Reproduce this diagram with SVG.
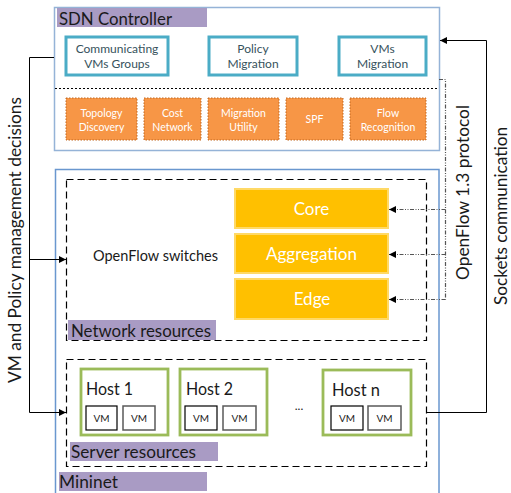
<svg xmlns="http://www.w3.org/2000/svg" width="511" height="493" viewBox="0 0 511 493">
<defs>
<style>
text{font-family:Lato,"Open Sans","Liberation Sans",sans-serif}
.lbl{font-size:17.5px;fill:#1a1a1a}
.band{fill:#a99bc4}
.teal{fill:#fff;stroke:#4bacc6;stroke-width:3}
.tt{font-size:12px;fill:#36525c;text-anchor:middle}
.org{fill:#f79646;stroke:#c0661f;stroke-width:1;stroke-dasharray:1.5 1.5}
.ot{font-size:10.5px;fill:#fff;text-anchor:middle}
.yel{fill:#ffc000;stroke:#ffd966;stroke-width:2}
.yt{font-size:17px;fill:#fff;text-anchor:middle}
.dash{fill:none;stroke:#000;stroke-width:1.2;stroke-dasharray:7 4}
.host{fill:#fff;stroke:#9bbb59;stroke-width:2.8}
.ht{font-size:17px;fill:#1a1a1a}
.vm{fill:#fff;stroke:#000;stroke-width:1.2}
.vm2{fill:#fff;stroke:#595959;stroke-width:1.5}
.vt{font-size:10px;fill:#1a1a1a;text-anchor:middle}
.conn{fill:none;stroke:#000;stroke-width:1}
.of{fill:none;stroke:#555;stroke-width:1.2;stroke-dasharray:4 1.5 1 1.5 1 1.5}
.rot{font-size:17.5px;fill:#1a1a1a;text-anchor:middle}
</style>
<marker id="ah" viewBox="0 0 10 10" refX="10" refY="5" markerWidth="7" markerHeight="7" markerUnits="userSpaceOnUse" orient="auto"><path d="M0,0 L10,5 L0,10 Z" fill="#000"/></marker>
</defs>

<g id="sdn-controller">
<rect x="54.5" y="7.5" width="385" height="143" fill="#fff" stroke="#95b3d7" stroke-width="1.5"/>
<rect class="band" x="57" y="8" width="150" height="19"/>
<text class="lbl" x="59" y="25" textLength="113" lengthAdjust="spacingAndGlyphs">SDN Controller</text>
<line x1="55" y1="88.5" x2="438" y2="88.5" stroke="#000" stroke-width="1" stroke-dasharray="2 2"/>
</g>

<g id="communicating-vms-groups">
<rect class="teal" x="66" y="37" width="102" height="38"/>
<text class="tt" x="117" y="53">Communicating</text>
<text class="tt" x="117" y="68">VMs Groups</text>
</g>
<g id="policy-migration">
<rect class="teal" x="209" y="37" width="88" height="38"/>
<text class="tt" x="253" y="53">Policy</text>
<text class="tt" x="253" y="68">Migration</text>
</g>
<g id="vms-migration">
<rect class="teal" x="339" y="37" width="87" height="38"/>
<text class="tt" x="382.5" y="53">VMs</text>
<text class="tt" x="382.5" y="68">Migration</text>
</g>

<g id="topology-discovery">
<rect class="org" x="66" y="98" width="71" height="42"/>
<text class="ot" x="101.5" y="117">Topology</text>
<text class="ot" x="101.5" y="131">Discovery</text>
</g>
<g id="cost-network">
<rect class="org" x="144" y="98" width="57" height="42"/>
<text class="ot" x="172.5" y="117">Cost</text>
<text class="ot" x="172.5" y="131">Network</text>
</g>
<g id="migration-utility">
<rect class="org" x="208" y="98" width="71" height="42"/>
<text class="ot" x="243.5" y="117">Migration</text>
<text class="ot" x="243.5" y="131">Utility</text>
</g>
<g id="spf">
<rect class="org" x="286" y="98" width="57" height="42"/>
<text class="ot" x="314.5" y="123">SPF</text>
</g>
<g id="flow-recognition">
<rect class="org" x="350" y="98" width="76" height="42"/>
<text class="ot" x="388" y="117">Flow</text>
<text class="ot" x="388" y="131">Recognition</text>
</g>

<g id="mininet">
<rect x="55.5" y="169.5" width="383.5" height="340" fill="#fff" stroke="#6a97cf" stroke-width="1.5"/>
<rect class="band" x="59" y="472" width="148" height="19"/>
<text class="lbl" x="59" y="488" textLength="59" lengthAdjust="spacingAndGlyphs">Mininet</text>
</g>

<g id="network-resources">
<rect class="dash" x="66.5" y="179.5" width="360" height="161"/>
<rect class="band" x="68" y="320" width="148" height="20"/>
<text class="lbl" x="71" y="337" textLength="140" lengthAdjust="spacingAndGlyphs">Network resources</text>
<text x="93" y="261" style="font-size:15px;fill:#1a1a1a" textLength="125" lengthAdjust="spacingAndGlyphs">OpenFlow switches</text>
</g>

<g id="core">
<rect class="yel" x="235" y="189" width="153" height="39"/>
<text class="yt" x="311.5" y="215">Core</text>
</g>
<g id="aggregation">
<rect class="yel" x="235" y="234" width="153" height="39"/>
<text class="yt" x="311.5" y="260" textLength="91" lengthAdjust="spacingAndGlyphs">Aggregation</text>
</g>
<g id="edge">
<rect class="yel" x="235" y="279" width="153" height="40"/>
<text class="yt" x="312" y="305">Edge</text>
</g>

<g id="server-resources">
<rect class="dash" x="66.5" y="359.5" width="360" height="107"/>
<rect class="band" x="70" y="442" width="148" height="19"/>
<text class="lbl" x="71" y="458" textLength="125" lengthAdjust="spacingAndGlyphs">Server resources</text>
<text x="299" y="410" style="font-size:12px;fill:#1a1a1a" text-anchor="middle">...</text>
</g>

<g id="host-1">
<rect class="host" x="81" y="369" width="87" height="66"/>
<text class="ht" x="86" y="395" textLength="47" lengthAdjust="spacingAndGlyphs">Host 1</text>
<rect class="vm" x="86" y="406" width="31" height="24"/>
<text class="vt" x="101.5" y="422">VM</text>
<rect class="vm2" x="123" y="406" width="32" height="24"/>
<text class="vt" x="139" y="422">VM</text>
</g>
<g id="host-2">
<rect class="host" x="180" y="369" width="87" height="66"/>
<text class="ht" x="186" y="395" textLength="47" lengthAdjust="spacingAndGlyphs">Host 2</text>
<rect class="vm" x="185" y="406" width="32" height="24"/>
<text class="vt" x="201" y="422">VM</text>
<rect class="vm2" x="223" y="406" width="33" height="24"/>
<text class="vt" x="239.5" y="422">VM</text>
</g>
<g id="host-n">
<rect class="host" x="323" y="370" width="88" height="65"/>
<text class="ht" x="332" y="396" textLength="48" lengthAdjust="spacingAndGlyphs">Host n</text>
<rect class="vm" x="331" y="406" width="32" height="24"/>
<text class="vt" x="347" y="422">VM</text>
<rect class="vm2" x="368" y="406" width="33" height="24"/>
<text class="vt" x="384.5" y="422">VM</text>
</g>

<g id="connectors">
<path class="conn" d="M54,57.5 H29.5 V412.5 H66" marker-end="url(#ah)"/>
<path class="conn" d="M29.5,259.5 H66" marker-end="url(#ah)"/>
<path class="conn" d="M426,412.5 H486.5 V40.5 H440" marker-end="url(#ah)"/>
<path class="of" d="M439,79.5 H445.5 V299.5"/>
<path class="of" d="M445.5,209.5 H389" marker-end="url(#ah)"/>
<path class="of" d="M445.5,254.5 H389" marker-end="url(#ah)"/>
<path class="of" d="M445.5,299.5 H389" marker-end="url(#ah)"/>
<text class="rot" transform="translate(21,240) rotate(-90)" textLength="286" lengthAdjust="spacingAndGlyphs">VM and Policy management decisions</text>
<text class="rot" transform="translate(469,192.5) rotate(-90)" textLength="175" lengthAdjust="spacingAndGlyphs">OpenFlow 1.3 protocol</text>
<text class="rot" transform="translate(507,216) rotate(-90)" textLength="178" lengthAdjust="spacingAndGlyphs">Sockets communication</text>
</g>
</svg>
